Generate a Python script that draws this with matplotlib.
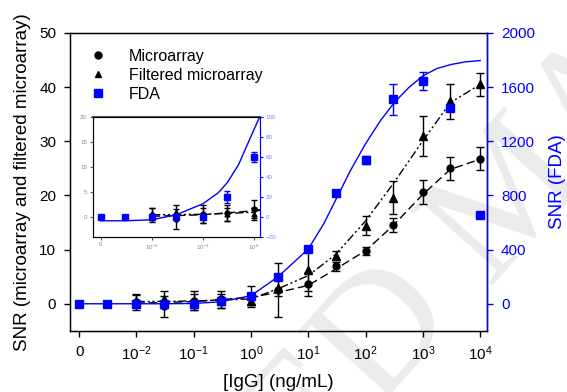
import numpy as np
import matplotlib
matplotlib.use("Agg")
import matplotlib.pyplot as plt
from matplotlib.lines import Line2D

plt.rcParams['font.family'] = ['Liberation Sans', 'DejaVu Sans']
plt.rcParams['mathtext.default'] = 'regular'

# data
conc_fda = [0, 0.003, 0.01, 0.03, 0.1, 0.3, 1, 3, 10, 30, 100, 300, 1000, 3000, 10000]
snr_fda = [0, 0, 0, 0, 0, 20, 60, 201, 405, 817, 1063, 1509, 1644, 1443, 655]
err_fda = [0, 0, 0, 0, 0, 6, 5, 0, 0, 0, 30, 114, 67, 20, 0]

conc_arr = [0.01, 0.03, 0.1, 0.3, 1, 3, 10, 30, 100, 300, 1000, 3000, 10000]
snr_micro = [0.3, -0.5, 0.6, 0.8, 1.5, 2.5, 3.7, 6.9, 9.8, 14.5, 20.7, 25.0, 26.8]
err_micro = [1.4, 2.0, 1.8, 1.6, 1.8, 5.0, 2.2, 0.8, 0.75, 1.3, 2.2, 2.1, 2.1]
snr_filt = [0.6, 0.9, 0.3, 0.5, 0.6, 2.9, 6.3, 8.9, 14.4, 19.6, 31.0, 37.4, 40.5]
err_filt = [1.2, 1.4, 1.5, 1.3, 1.2, 1.5, 4.0, 0.9, 1.75, 3.1, 3.7, 3.2, 2.1]

# fitted curves
fit_conc = [0.01, 0.1, 1, 3, 10, 30, 100, 300, 1000, 3000, 10000]
fit_micro = [0.1, 0.4, 1.2, 2.1, 3.4, 6.4, 9.8, 14.4, 20.2, 24.8, 26.7]
fit_filt = [0.4, 0.5, 0.9, 2.8, 5.2, 9.1, 15.3, 22.1, 30.1, 37.1, 40.5]
fda_fit_conc = [0, 0.003, 0.01, 0.03, 0.1, 0.3, 1, 3, 10, 18.5, 31.6, 54, 98.6, 180,
                316, 562, 986, 1754, 3120, 5490, 10000]
fda_fit = [0, 0, 0, 0, 2, 15, 60, 201, 405, 589, 785, 982, 1178, 1350,
           1485, 1595, 1681, 1737, 1767, 1786, 1796]
inset_fit_conc = [0, 0.003, 0.01, 0.03, 0.1, 0.2, 0.3, 0.5, 1, 1.3]
inset_fit = [-4, -4, -3, 2, 13, 24, 34, 52, 87, 100]

xtick_vals = [0, 0.01, 0.1, 1, 10, 100, 1000, 10000]
xtick_labels = ['0', '$10^{-2}$', '$10^{-1}$', '$10^{0}$', '$10^{1}$', '$10^{2}$', '$10^{3}$', '$10^{4}$']


def xpos(c):
    # the "0" concentration sits one decade below 10^-2
    c = np.asarray(c, dtype=float)
    return np.where(c == 0, 1e-3, c)


BLUE = '#0000ff'
fig = plt.figure(figsize=(5.67, 3.92), dpi=100)

# watermark behind the plot
wm = dict(fontsize=122, family='Liberation Serif', color='#ebebeb', rotation=48,
          rotation_mode='anchor', va='baseline', zorder=-10)
fig.text(0.810, 0.191, 'ACCEPTED', ha='right', **wm)
fig.text(0.860, 0.271, 'MANUSCRIPT', ha='left', **wm)

ax = fig.add_axes([0.1235, 0.156, 0.7355, 0.76])
ax.patch.set_visible(False)
ax2 = ax.twinx()

ax.plot(xpos(fit_conc), fit_micro, color='black', lw=1, ls=(0, (6, 3)))
ax.plot(xpos(fit_conc), fit_filt, color='black', lw=1, ls=(0, (6, 2, 1.5, 2, 1.5, 2)))
ax.errorbar(xpos(conc_arr), snr_micro, yerr=err_micro, fmt='o', color='black', ms=5,
            capsize=3.2, elinewidth=1, capthick=1)
ax.errorbar(xpos(conc_arr), snr_filt, yerr=err_filt, fmt='^', color='black', ms=5.5,
            capsize=3.2, elinewidth=1, capthick=1)

ax2.plot(xpos(fda_fit_conc), fda_fit, color=BLUE, lw=1)
ax2.errorbar(xpos(conc_fda), snr_fda, yerr=err_fda, fmt='s', color=BLUE, ms=6,
             capsize=3.2, elinewidth=1, capthick=1)

ax.set_xscale('log')
ax.set_xlim(10 ** -3.16, 10 ** 4.12)
ax.set_ylim(-5, 50)
ax2.set_ylim(-200, 2000)
ax.set_xticks(xpos(xtick_vals))
ax.set_xticklabels(xtick_labels)
ax.xaxis.set_minor_locator(plt.NullLocator())
ax.set_yticks([0, 10, 20, 30, 40, 50])
ax2.set_yticks([0, 400, 800, 1200, 1600, 2000])

ax.tick_params(axis='both', direction='out', length=4, width=1, labelsize=11, pad=6)
ax2.tick_params(axis='y', direction='out', length=4, width=1, labelsize=11, pad=6,
                colors=BLUE)
ax2.spines['right'].set_color(BLUE)
for sp in ax.spines.values():
    sp.set_linewidth(1)
ax2.spines['right'].set_linewidth(1)

ax.set_xlabel('[IgG] (ng/mL)', fontsize=13.5, labelpad=8)
ax.set_ylabel('SNR (microarray and filtered microarray)', fontsize=13.5, labelpad=6)
ax2.set_ylabel('SNR (FDA)', fontsize=13.5, color=BLUE, labelpad=10)

handles = [
    Line2D([], [], ls='none', marker='o', color='black', ms=5),
    Line2D([], [], ls='none', marker='^', color='black', ms=5),
    Line2D([], [], ls='none', marker='s', color=BLUE, ms=6),
]
ax.legend(handles, ['Microarray', 'Filtered microarray', 'FDA'], loc='upper left',
          frameon=False, fontsize=11.5, handletextpad=1.2, labelspacing=0.25,
          borderaxespad=0.6, handlelength=1.5)

# inset: low concentration range
ins = fig.add_axes([0.1635, 0.396, 0.295, 0.306])
ins2 = ins.twinx()
ins.plot(xpos(fit_conc), fit_micro, color='black', lw=1, ls=(0, (6, 3)))
ins.plot(xpos(fit_conc), fit_filt, color='black', lw=1, ls=(0, (6, 2, 1.5, 2, 1.5, 2)))
ins.errorbar(xpos(conc_arr), snr_micro, yerr=err_micro, fmt='o', color='black', ms=3.5,
             capsize=2, elinewidth=1, capthick=1)
ins.errorbar(xpos(conc_arr), snr_filt, yerr=err_filt, fmt='^', color='black', ms=3.5,
             capsize=2, elinewidth=1, capthick=1)
ins2.plot(xpos(inset_fit_conc), inset_fit, color=BLUE, lw=1)
ins2.errorbar(xpos(conc_fda), snr_fda, yerr=err_fda, fmt='s', color=BLUE, ms=4,
              capsize=2, elinewidth=1, capthick=1)

ins.set_xscale('log')
ins.set_xlim(10 ** -3.16, 10 ** 0.12)
ins.set_ylim(-4, 20)
ins2.set_ylim(-20, 100)
ins.set_xticks(xpos(xtick_vals[:4]))
ins.set_xticklabels(xtick_labels[:4])
ins.xaxis.set_minor_locator(plt.NullLocator())
ins.set_yticks([0, 5, 10, 15, 20])
ins2.set_yticks([-20, 0, 20, 40, 60, 80, 100])
ins.tick_params(axis='both', direction='out', length=2, labelsize=4.5, pad=2,
                colors='#555555', labelcolor='#888888')
ins2.tick_params(axis='y', direction='out', length=2, labelsize=4.5, pad=2,
                 colors=BLUE, labelcolor='#8080ff')
for sp in ['left', 'bottom']:
    ins.spines[sp].set_color('#555555')
ins.spines['top'].set_color('#555555')
ins.spines['top'].set_linewidth(1.5)
ins2.spines['right'].set_color(BLUE)

fig.savefig('out.png', dpi=100)
